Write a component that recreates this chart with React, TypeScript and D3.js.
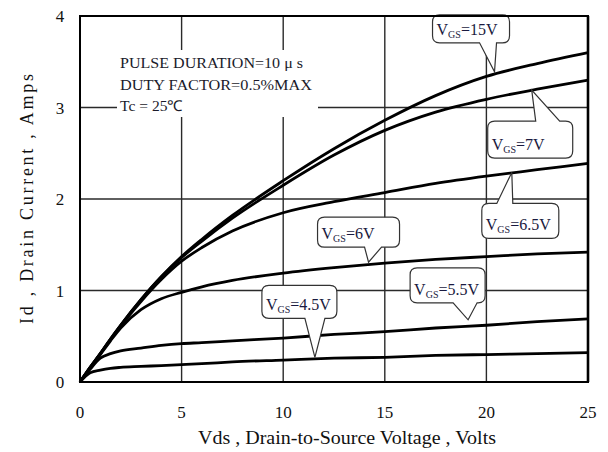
import React from 'react';
import * as d3 from 'd3';

// Vds sample points (Volts) shared by every curve
const vds = [0, 0.5, 1, 1.5, 2, 3, 4, 5, 6, 7.5, 10, 12.5, 15, 17.5, 20, 22.5, 25];

// Id (Amps), one list per gate voltage
const id15 = [0, 0.16, 0.31, 0.47, 0.62, 0.9, 1.15, 1.37, 1.56, 1.82, 2.2, 2.55, 2.86, 3.13, 3.34, 3.48, 3.6];
const id7 = [0, 0.16, 0.31, 0.47, 0.62, 0.9, 1.15, 1.36, 1.54, 1.79, 2.15, 2.48, 2.75, 2.95, 3.09, 3.2, 3.3];
const id65 = [0, 0.16, 0.31, 0.46, 0.61, 0.88, 1.12, 1.32, 1.47, 1.65, 1.85, 1.97, 2.07, 2.17, 2.25, 2.32, 2.39];
const id6 = [0, 0.15, 0.3, 0.45, 0.59, 0.79, 0.91, 0.98, 1.04, 1.11, 1.19, 1.25, 1.3, 1.34, 1.37, 1.4, 1.42];
const id55 = [0, 0.14, 0.26, 0.31, 0.34, 0.37, 0.4, 0.42, 0.43, 0.45, 0.48, 0.52, 0.55, 0.59, 0.62, 0.66, 0.69];
const id45 = [0, 0.1, 0.13, 0.15, 0.16, 0.17, 0.18, 0.19, 0.2, 0.22, 0.24, 0.26, 0.27, 0.29, 0.3, 0.31, 0.32];

const series = [id15, id7, id65, id6, id55, id45];

const xTicks = [0, 5, 10, 15, 20, 25];
const yTicks = [0, 1, 2, 3, 4];

// callout labels: gate voltage text, pointer tip (Vds, Id)
const calloutLabels = ['=15V', '=7V', '=6.5V', '=6V', '=4.5V', '=5.5V'];
const calloutTipV = [20.4, 22.23, 21.25, 14.2, 11.56, 19.1];
const calloutTipI = [3.39, 3.19, 2.29, 1.31, 0.27, 0.68];

const noteLines = ['PULSE DURATION=10 \u03BC s', 'DUTY FACTOR=0.5%MAX', 'Tc = 25\u2103'];

const W = 608;
const H = 452;
const serif = '"Liberation Serif", "Times New Roman", serif';

// box geometry for each callout (px relative to the tip), pointer base offsets
const boxes = [
  { dx: -62, dy: -57, w: 77, h: 28, base: [-15, 2], side: 'bottom' },
  { dx: -44, dy: 31, w: 85, h: 37, base: [4, 28], side: 'top' },
  { dx: -30, dy: 31, w: 77, h: 35, base: [-15, 1], side: 'top' },
  { dx: -51, dy: -45, w: 82, h: 30, base: [-4, 13], side: 'bottom' },
  { dx: -53, dy: -72, w: 75, h: 33, base: [-10, 10], side: 'bottom' },
  { dx: -58, dy: -52, w: 75, h: 35, base: [-15, 9], side: 'bottom' },
];

function calloutPath(tx: number, ty: number, b: any) {
  const x0 = tx + b.dx;
  const y0 = ty + b.dy;
  const x1 = x0 + b.w;
  const y1 = y0 + b.h;
  const r = 7;
  const b1 = tx + b.base[0];
  const b2 = tx + b.base[1];
  if (b.side === 'top') {
    return `M${x0 + r},${y0} H${b1} L${tx},${ty} L${b2},${y0} H${x1 - r} Q${x1},${y0} ${x1},${y0 + r} V${y1 - r} Q${x1},${y1} ${x1 - r},${y1} H${x0 + r} Q${x0},${y1} ${x0},${y1 - r} V${y0 + r} Q${x0},${y0} ${x0 + r},${y0} Z`;
  }
  return `M${x0 + r},${y0} H${x1 - r} Q${x1},${y0} ${x1},${y0 + r} V${y1 - r} Q${x1},${y1} ${x1 - r},${y1} H${b2} L${tx},${ty} L${b1},${y1} H${x0 + r} Q${x0},${y1} ${x0},${y1 - r} V${y0 + r} Q${x0},${y0} ${x0 + r},${y0} Z`;
}

export default function App() {
  const x = d3.scaleLinear().domain([0, 25]).range([80, 588]);
  const y = d3.scaleLinear().domain([0, 4]).range([382, 16]);

  const line = d3
    .line<number>()
    .x((_, i) => x(vds[i]))
    .y((d) => y(d))
    .curve(d3.curveMonotoneX);

  return (
    <svg width={W} height={H} style={{ position: 'absolute', left: 0, top: 0, background: '#fff' }}>
      <rect width={W} height={H} fill="#fff" />
      {/* grid */}
      {xTicks.slice(1, -1).map((t) => (
        <line key={'gx' + t} x1={x(t)} x2={x(t)} y1={y(0)} y2={y(4)} stroke="#2a2a2a" strokeWidth={1.4} />
      ))}
      {yTicks.slice(1, -1).map((t) => (
        <line key={'gy' + t} x1={x(0)} x2={x(25)} y1={y(t)} y2={y(t)} stroke="#2a2a2a" strokeWidth={1.4} />
      ))}

      {/* test conditions note */}
      <rect x={117} y={50} width={201} height={67} fill="#fff" />
      {noteLines.map((s, i) => (
        <text
          key={s}
          x={120}
          y={68 + i * 21.5}
          fontFamily={serif}
          fontSize={15}
          fill="#1a1a2a"
          textLength={[183, 192, 63][i]}
          lengthAdjust="spacingAndGlyphs"
        >
          {s}
        </text>
      ))}

      {/* curves */}
      {series.map((s, i) => (
        <path key={'c' + i} d={line(s) || ''} fill="none" stroke="#000" strokeWidth={2.8} strokeLinejoin="round" />
      ))}

      {/* callouts */}
      {calloutLabels.map((lab, i) => {
        const tx = x(calloutTipV[i]);
        const ty = y(calloutTipI[i]);
        const b = boxes[i];
        const x0 = tx + b.dx;
        const y0 = ty + b.dy;
        return (
          <g key={'k' + i}>
            <path d={calloutPath(tx, ty, b)} fill="#fff" stroke="#333" strokeWidth={1.2} />
            <text x={x0 + 4} y={y0 + b.h - 8} fontFamily={serif} fontSize={16} fill="#1a1a40">
              V<tspan fontSize={10} dy={3}>GS</tspan>
              <tspan dy={-3}>{lab}</tspan>
            </text>
          </g>
        );
      })}

      {/* frame */}
      <rect x={x(0)} y={y(4)} width={x(25) - x(0)} height={y(0) - y(4)} fill="none" stroke="#000" strokeWidth={2} />
      <line x1={x(25)} x2={x(25)} y1={y(0)} y2={y(4)} stroke="#000" strokeWidth={2.6} />

      {/* tick labels */}
      {xTicks.map((t) => (
        <text key={'tx' + t} x={x(t)} y={418} textAnchor="middle" fontFamily={serif} fontSize={17} fill="#111">
          {t}
        </text>
      ))}
      {yTicks.map((t) => (
        <text key={'ty' + t} x={60} y={y(t) + 6} textAnchor="middle" fontFamily={serif} fontSize={17} fill="#111">
          {t}
        </text>
      ))}

      {/* axis titles */}
      <text x={347} y={444} textAnchor="middle" fontFamily={serif} fontSize={18} fill="#111" textLength={298} lengthAdjust="spacingAndGlyphs">
        Vds , Drain-to-Source Voltage , Volts
      </text>
      <text
        transform={`translate(33,${(y(0) + y(4)) / 2}) rotate(-90)`}
        textAnchor="middle"
        fontFamily={serif}
        fontSize={18}
        fill="#111"
        textLength={250}
        lengthAdjust="spacing"
      >
        Id , Drain Current , Amps
      </text>
    </svg>
  );
}
